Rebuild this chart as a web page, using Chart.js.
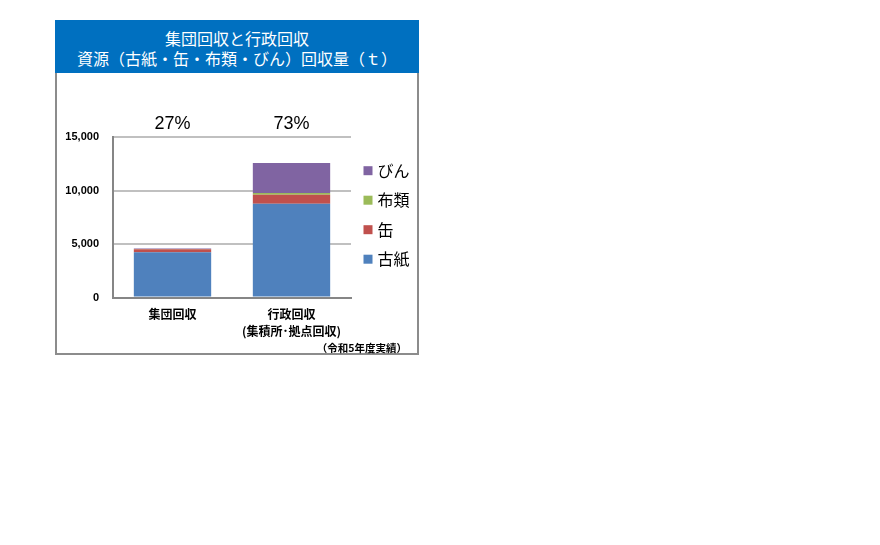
<!DOCTYPE html>
<html>
<head>
<meta charset="utf-8">
<script src="https://cdn.jsdelivr.net/npm/chart.js@4.4.1/dist/chart.umd.min.js"></script>
<style>
html,body{margin:0;padding:0;background:#fff;width:880px;height:545px;overflow:hidden}
#header{position:absolute;left:55px;top:20px;width:364px;height:53px;background:#0070C0;color:#fff;
  font-family:"Noto Sans CJK JP","Noto Sans",sans-serif;font-size:16px;line-height:20px;text-align:center;
  box-sizing:border-box;padding-top:8px}
#cw{position:absolute;left:55px;top:73px;width:364px;height:282px}
#frame{position:absolute;left:55px;top:73px;width:364px;height:282px;box-sizing:border-box;
  border:2px solid #8c8c8c;border-top:none;pointer-events:none}
#note{position:absolute;left:250px;width:157px;top:341px;text-align:right;
  font-family:"Noto Sans CJK JP",sans-serif;font-size:10.5px;font-weight:bold;line-height:14px;color:#000}
</style>
</head>
<body>
<div id="header">集団回収と行政回収<br>資源（古紙・缶・布類・びん）回収量（ｔ）</div>
<div id="cw"><canvas id="c" width="364" height="282"></canvas></div>
<div id="frame"></div>
<div id="note">（令和5年度実績）</div>
<script>
// ---- data ----
const categories = [['集団回収'], ['行政回収', '(集積所･拠点回収)']];
const seriesNames = ['古紙', '缶', '布類', 'びん'];
const paper   = [4220, 8770];   // 古紙
const cans    = [300, 830];     // 缶
const cloth   = [20, 160];      // 布類
const bottles = [50, 2810];     // びん
const yTickValues = [0, 5000, 10000, 15000];
const colors = ['#4F81BD', '#C0504D', '#9BBB59', '#8064A2'];

const seriesValues = [paper, cans, cloth, bottles];
const datasets = seriesNames.map((name, i) => ({
  label: name,
  data: seriesValues[i],
  backgroundColor: colors[i],
  borderWidth: 0,
  categoryPercentage: 1.0,
  barPercentage: 0.65
}));

const percentPlugin = {
  id: 'percentLabels',
  afterDraw(chart) {
    const ctx = chart.ctx;
    const xs = chart.scales.x, ys = chart.scales.y;
    const totals = chart.data.labels.map((_, i) =>
      chart.data.datasets.reduce((s, d) => s + d.data[i], 0));
    const grand = totals.reduce((a, b) => a + b, 0);
    ctx.save();
    ctx.font = '18px "Liberation Sans", Arial, sans-serif';
    ctx.fillStyle = '#000';
    ctx.textAlign = 'center';
    ctx.textBaseline = 'middle';
    totals.forEach((t, i) => {
      ctx.fillText(Math.round(t / grand * 100) + '%', xs.getPixelForValue(i), ys.top - 13);
    });
    ctx.restore();
  }
};

const legendPlugin = {
  id: 'sideLegend',
  afterDraw(chart) {
    const ctx = chart.ctx;
    const ds = chart.data.datasets.slice().reverse();
    ctx.save();
    ctx.font = '16px "Noto Sans CJK JP", sans-serif';
    ctx.textAlign = 'left';
    ctx.textBaseline = 'middle';
    ds.forEach((d, k) => {
      const y = 97.7 + k * 29.5;
      ctx.fillStyle = d.backgroundColor;
      ctx.fillRect(308.5, y - 4.5, 9, 9);
      ctx.fillStyle = '#000';
      ctx.fillText(d.label, 322.5, y);
    });
    ctx.restore();
  }
};

new Chart(document.getElementById('c'), {
  type: 'bar',
  data: { labels: categories, datasets },
  options: {
    responsive: false,
    animation: false,
    devicePixelRatio: 1,
    layout: { padding: { left: 0, right: 68, top: 64, bottom: 0 } },
    plugins: { legend: { display: false }, tooltip: { enabled: false }, title: { display: false } },
    scales: {
      x: {
        stacked: true,
        grid: { display: false, drawTicks: false },
        border: { display: true, color: '#868686', width: 2 },
        ticks: {
          color: '#000', padding: 9, maxRotation: 0, autoSkip: false,
          font: { family: '"Noto Sans CJK JP", sans-serif', size: 12, weight: 'bold', lineHeight: 1.4 }
        },
        afterFit(s) { s.height = 57.5; }
      },
      y: {
        stacked: true,
        min: 0, max: 15000,
        afterBuildTicks(s) { s.ticks = yTickValues.map(v => ({ value: v })); },
        grid: { color: '#c0c0c0', lineWidth: 2, drawTicks: false },
        border: { display: true, color: '#868686', width: 2 },
        ticks: {
          color: '#000', padding: 14,
          font: { family: '"Liberation Sans", Arial, sans-serif', size: 11, weight: 'bold' },
          callback: v => v.toLocaleString('en-US')
        },
        afterFit(s) { s.width = 58; }
      }
    }
  },
  plugins: [percentPlugin, legendPlugin]
});
</script>
</body>
</html>
